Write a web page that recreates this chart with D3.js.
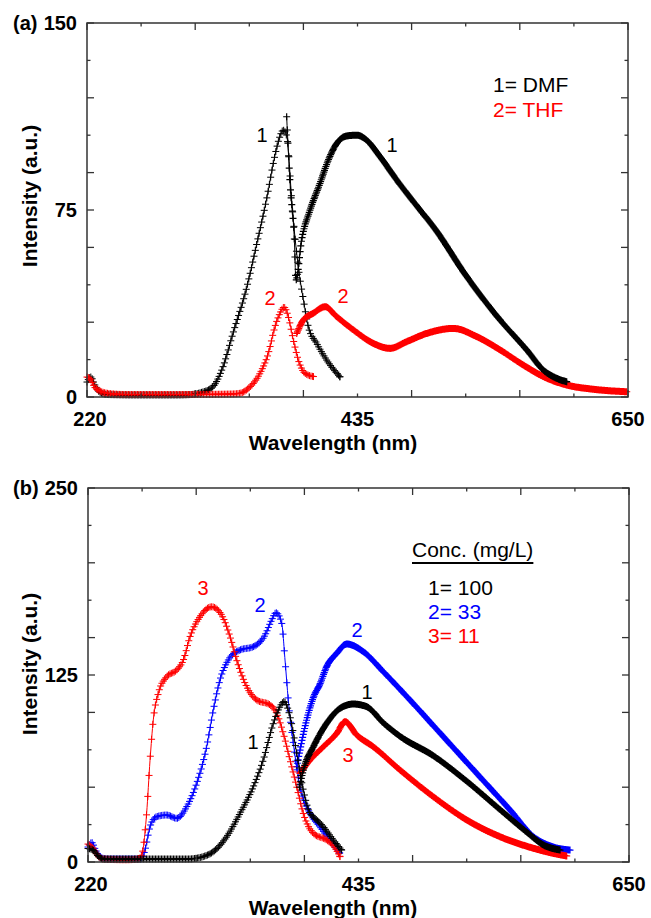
<!DOCTYPE html>
<html><head><meta charset="utf-8">
<script src="https://cdn.jsdelivr.net/npm/d3@7"></script>
<style>
html,body{margin:0;padding:0;background:#fff;}
text{font-family:"Liberation Sans",Arial,sans-serif;}
</style></head>
<body>
<svg id="chart" width="651" height="918"></svg>
<script>
// ---------- DATA ----------
const xDomain = [220, 650];
const xTickValues = d3.range(220, 651, 43);
const xTickLabels = [220, 435, 650];
const yTicksA = d3.range(0, 151, 15);
const yTickLabelsA = [0, 75, 150];
const yTicksB = d3.range(0, 251, 25);
const yTickLabelsB = [0, 125, 250];

// Panel (a): 1 = DMF (black), 2 = THF (red)
const aDMFexcitation = [[220,6],[223,8],[226,5],[230,2],[236,1],[260,0.8],[290,0.8],[303,1],[310,1.7],[320,4.1],[328,12],[336,25.5],[347,44],[355,61.6],[363,80],[369,96],[373,104],[376,107],[379,104],[380,99],[382.7,79],[388,52],[392,39],[396,28],[402.6,21.5],[410.5,14.8],[421,8.1]];
const aDMFemission = [[378.7,112.4],[381.4,85.7],[384.8,63],[386.1,46.9],[390.6,63],[397.3,75],[405.2,85.7],[411.8,95],[418.5,101.7],[426.4,104.7],[434.4,105],[442.3,103],[452.9,96.4],[466.2,87],[484.7,75],[495.3,68.3],[521.8,48.3],[548.3,30.9],[569.5,18.9],[582.7,10.8],[593.3,7.5],[601.3,6.1]];
const aTHFexcitation = [[220,8],[223,7],[226,4],[230,2.5],[236,1.5],[250,1],[300,1],[335,1.2],[341.6,1.5],[349.6,4.1],[357.5,9.5],[364.1,17.5],[369.4,28.2],[373.4,33.6],[376.6,36],[380,32.2],[384,22.9],[388,14.8],[393.3,9.5],[400,8.2]];
const aTHFemission = [[386.7,25.5],[392,30.9],[399.9,33.6],[409.2,36.2],[418.5,32.2],[431.7,26.9],[447.6,21.5],[460.8,19.5],[474.1,22.2],[490,25.5],[511.2,27.5],[529.8,24.2],[548.3,18.9],[566.8,12.8],[582.7,8.2],[601.3,4.8],[622.5,3.1],[649,2.1]];

// Panel (b): 1 = 100, 2 = 33, 3 = 11 mg/L
const b100excitation = [[220,9],[224,8],[228,4],[232,2],[260,2],[300,2],[306,2.5],[311.6,3.6],[319.6,6.9],[330.2,16.9],[340.8,32.5],[351.4,50.3],[359.3,68.2],[367.3,92.7],[372.6,103.8],[375.8,107.2],[380.6,97.1],[385.9,72.7],[391.1,48.1],[396.5,32.5],[399,30.3],[407,23.6],[415,14.7],[421.6,8]];
const b100emission = [[388,50],[391.9,63.7],[399.1,77],[409.7,92.7],[420.3,102.7],[430.9,105.6],[441.5,103.8],[454.7,93],[468,84],[494.5,71],[521,54],[547.5,35],[568.7,20],[581.9,11.4],[595.2,8]];
const b33excitation = [[220,10],[223,13],[226,8],[230,3],[236,2],[262,2],[265.3,8],[269.3,23.6],[274.6,30.3],[282.6,31.4],[290.5,29.2],[298.5,37],[306.4,52.6],[314.3,77],[319.6,101.6],[324.9,121.7],[331.5,135],[340.8,141.7],[351.4,143.9],[360.7,151.7],[366,161.8],[369.4,166.6],[374,159.5],[376.6,135],[379.2,108.3],[383.2,79.3],[388.5,50.3],[396.5,32.5],[404,24],[412,15],[420,6]];
const b33emission = [[385.9,63.7],[393.8,95],[399.1,110],[404.4,119],[409.7,130.6],[417.7,139.5],[425.6,145.7],[438.8,140.6],[454.7,127.2],[475.9,108.3],[502.4,83.8],[528.9,59.3],[555.4,34.8],[574,16.9],[589.8,10],[603.1,8]];
const b11excitation = [[220,12],[224,9],[228,4],[232,2],[250,1.5],[260,2],[262.7,4.7],[266.6,32.5],[269.3,68],[271.9,95],[275.9,112.8],[282.6,123.9],[290.5,128.3],[295.8,135],[301.1,150.6],[309,164],[318.3,170.6],[326.3,165],[332.9,150.6],[338.2,135],[346.1,117.2],[354.1,108.3],[364.7,105],[370,99.4],[375.2,86],[380.6,68.2],[385.9,50.3],[391.1,32.5],[399.1,19.2],[409.7,14.7],[415,11],[420.3,3.6]];
const b11emission = [[388.5,59.3],[396.5,68.2],[407,77],[417.7,86],[424.3,93.8],[433.6,84.9],[446.8,77],[468,61.5],[494.5,43.6],[521,28.1],[547.5,16.9],[574,9.2],[589.8,5.8],[600.5,4]];

const curveLabelsA = [
  {t:"1", c:"#000", at:[359.1,105.1]}, {t:"1", c:"#000", at:[462.4,101]},
  {t:"2", c:"#ff0000", at:[365.5,39.7]}, {t:"2", c:"#ff0000", at:[423.5,40.5]}
];
const curveLabelsB = [
  {t:"3", c:"#ff0000", at:[311.4,183.2]}, {t:"2", c:"#0000ff", at:[356.7,171.8]},
  {t:"1", c:"#000", at:[351.1,80.2]}, {t:"2", c:"#0000ff", at:[433.8,155.1]},
  {t:"1", c:"#000", at:[441.8,113.6]}, {t:"3", c:"#ff0000", at:[426.7,71.5]}
];
const legendA = [{t:"1= DMF", c:"#000"}, {t:"2= THF", c:"#ff0000"}];
const legendBTitle = "Conc. (mg/L)";
const legendB = [{t:"1= 100", c:"#000"}, {t:"2= 33", c:"#0000ff"}, {t:"3= 11", c:"#ff0000"}];

// ---------- DRAW ----------
const svg = d3.select("#chart");

function panel(cfg){
  const g = svg.append("g");
  const x = d3.scaleLinear(xDomain, [cfg.left, cfg.right]);
  const y = d3.scaleLinear(cfg.yDomain, [cfg.bottom, cfg.top]);
  const line = d3.line().x(d=>x(d[0])).y(d=>y(d[1])).curve(d3.curveMonotoneX);

  cfg.series.forEach(s=>{
    const p = g.append("path").datum(s.data).attr("d", line)
      .attr("fill","none").attr("stroke", s.color).attr("stroke-width", 1);
    const node = p.node(), L = node.getTotalLength();
    const pts = []; let lastX = -1e9;
    const dx = s.step * (x(1)-x(0));
    for(let l=0; l<=L; l+=0.25){
      const pt = node.getPointAtLength(l);
      if(Math.abs(pt.x-lastX) >= dx || l===0){ pts.push([pt.x,pt.y]); lastX = pt.x; }
    }
    const e = node.getPointAtLength(L); pts.push([e.x,e.y]);
    const h = s.size/2;
    g.append("path")
      .attr("d", pts.map(q=>`M${q[0]-h},${q[1]}h${s.size}M${q[0]},${q[1]-h}v${s.size}`).join(""))
      .attr("fill","none").attr("stroke", s.color).attr("stroke-width", s.sw);
  });

  g.append("rect").attr("x",cfg.left).attr("y",cfg.top)
    .attr("width",cfg.right-cfg.left).attr("height",cfg.bottom-cfg.top)
    .attr("fill","none").attr("stroke","#333").attr("stroke-width",1.5);

  xTickValues.forEach((v,i)=>{
    const len = (i%2===0)?7:3.5;
    g.append("line").attr("x1",x(v)).attr("x2",x(v)).attr("y1",cfg.bottom).attr("y2",cfg.bottom-len).attr("stroke","#333").attr("stroke-width",1.3);
    g.append("line").attr("x1",x(v)).attr("x2",x(v)).attr("y1",cfg.top).attr("y2",cfg.top+len).attr("stroke","#333").attr("stroke-width",1.3);
  });
  cfg.yTicks.forEach(v=>{
    const len = (v%cfg.yMajor===0 || cfg.yLabels.includes(v))?7:3.5;
    g.append("line").attr("y1",y(v)).attr("y2",y(v)).attr("x1",cfg.left).attr("x2",cfg.left+len).attr("stroke","#333").attr("stroke-width",1.3);
    g.append("line").attr("y1",y(v)).attr("y2",y(v)).attr("x1",cfg.right).attr("x2",cfg.right-len).attr("stroke","#333").attr("stroke-width",1.3);
  });
  g.selectAll(null).data(xTickLabels).join("text")
    .attr("x",d=>x(d)+(d===220?3:0)).attr("y",cfg.bottom+29)
    .attr("text-anchor","middle").attr("font-size",20).attr("font-weight","bold").text(d=>d);
  g.selectAll(null).data(cfg.yLabels).join("text")
    .attr("x",cfg.left-10).attr("y",d=>y(d)).attr("dy","0.36em")
    .attr("text-anchor","end").attr("font-size",20).attr("font-weight","bold").text(d=>d);
  g.append("text").attr("x",13).attr("y",cfg.top+7).attr("font-size",20).attr("font-weight","bold").text(cfg.letter);
  g.append("text").attr("x",333).attr("y",cfg.bottom+53).attr("text-anchor","middle")
    .attr("font-size",21).attr("font-weight","bold").text("Wavelength (nm)");
  g.append("text").attr("transform",`translate(37,${cfg.ytitleY}) rotate(-90)`).attr("text-anchor","middle")
    .attr("font-size",21).attr("font-weight","bold").text("Intensity (a.u.)");
  g.selectAll(null).data(cfg.labels).join("text")
    .attr("x",d=>x(d.at[0])).attr("y",d=>y(d.at[1])).attr("dy","0.36em")
    .attr("text-anchor","middle").attr("font-size",20).attr("fill",d=>d.c).text(d=>d.t);
  return {g,x,y};
}

const A = panel({left:87,right:628,top:23,bottom:397,yDomain:[0,150],yTicks:yTicksA,yLabels:yTickLabelsA,yMajor:30,
  letter:"(a)", ytitleY:196, labels:curveLabelsA,
  series:[
    {data:aDMFexcitation,color:"#000",step:1,size:7,sw:1},
    {data:aTHFexcitation,color:"#ff0000",step:1,size:7,sw:1},
    {data:aTHFemission,color:"#ff0000",step:0.5,size:7,sw:1.2},
    {data:aDMFemission,color:"#000",step:0.5,size:7,sw:1.2}
  ]});
A.g.selectAll(null).data(legendA).join("text")
  .attr("x",493).attr("y",(d,i)=>92+i*25).attr("font-size",21).attr("fill",d=>d.c).text(d=>d.t);

const B = panel({left:88,right:629,top:488,bottom:862,yDomain:[0,250],yTicks:yTicksB,yLabels:yTickLabelsB,yMajor:50,
  letter:"(b)", ytitleY:664, labels:curveLabelsB,
  series:[
    {data:b33excitation,color:"#0000ff",step:1,size:7,sw:1},
    {data:b33emission,color:"#0000ff",step:0.5,size:7,sw:1.2},
    {data:b11excitation,color:"#ff0000",step:1,size:7,sw:1},
    {data:b11emission,color:"#ff0000",step:0.5,size:7,sw:1.2},
    {data:b100excitation,color:"#000",step:1,size:7,sw:1},
    {data:b100emission,color:"#000",step:0.5,size:7,sw:1.2}
  ]});
const lt = B.g.append("text").attr("x",412).attr("y",557).attr("font-size",21).attr("fill","#000").text(legendBTitle);
const bb = lt.node().getBBox();
B.g.append("line").attr("x1",bb.x).attr("x2",bb.x+bb.width).attr("y1",563).attr("y2",563).attr("stroke","#000").attr("stroke-width",2);
B.g.selectAll(null).data(legendB).join("text")
  .attr("x",428).attr("y",(d,i)=>595+i*24).attr("font-size",21).attr("fill",d=>d.c).text(d=>d.t);
</script>
</body></html>
